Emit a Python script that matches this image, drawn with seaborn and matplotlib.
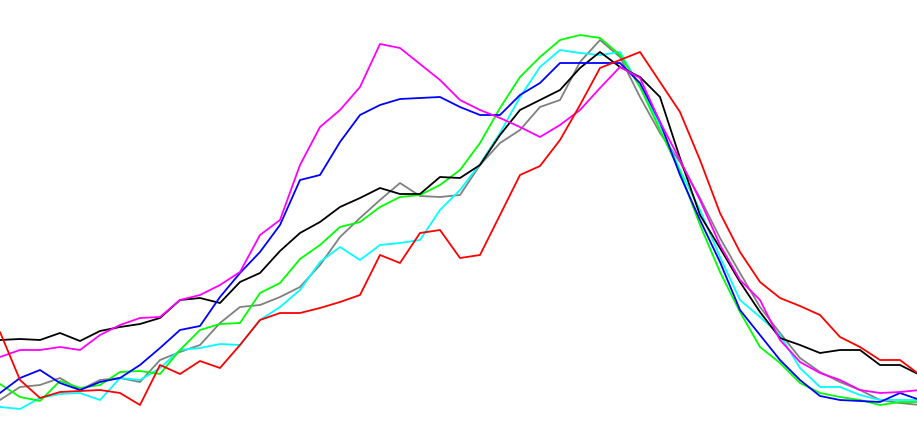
import numpy as np
import pandas as pd
import seaborn as sns
import matplotlib
matplotlib.use("Agg")
import matplotlib.pyplot as plt

# sample positions (shared by all series)
x = list(range(0, 921, 20))

# values (axis runs top-down, no labels shown)
red = [332, 380, 398, 392, 391, 390, 393, 405, 365, 374, 361, 368, 345, 320, 313, 313,
       308, 302, 295, 255, 263, 233, 230, 258, 255, 215, 175, 166, 140, 105, 68, 60,
       52, 82, 112, 160, 213, 252, 282, 298, 306, 315, 337, 347, 360, 360, 375]
magenta = [357, 350, 350, 347, 350, 335, 325, 318, 317, 300, 295, 285, 272, 235, 220, 165,
           127, 110, 87, 44, 48, 64, 80, 100, 110, 118, 127, 137, 125, 110, 88, 67,
           78, 122, 160, 200, 245, 280, 300, 340, 362, 373, 380, 390, 393, 392, 390]
blue = [393, 378, 370, 383, 390, 382, 378, 365, 348, 330, 326, 297, 273, 252, 225, 180,
        175, 142, 115, 105, 99, 98, 97, 107, 115, 115, 95, 83, 63, 63, 63, 63,
        83, 122, 175, 220, 262, 310, 335, 360, 380, 396, 400, 401, 402, 393, 400]
black = [340, 339, 340, 333, 341, 331, 327, 324, 318, 300, 298, 303, 282, 273, 251, 233,
         222, 207, 198, 188, 194, 194, 177, 178, 165, 135, 110, 100, 90, 68, 52, 67,
         77, 97, 158, 215, 248, 282, 312, 338, 345, 353, 350, 350, 365, 365, 375]
gray = [400, 387, 385, 378, 390, 380, 378, 382, 360, 352, 345, 323, 307, 305, 297, 287,
        265, 237, 218, 200, 183, 196, 197, 195, 165, 143, 130, 107, 100, 62, 40, 57,
        97, 133, 162, 198, 238, 273, 307, 333, 358, 372, 382, 390, 400, 403, 405]
green = [384, 397, 401, 381, 388, 385, 372, 371, 374, 350, 330, 324, 323, 293, 283, 259,
         245, 227, 222, 207, 197, 195, 185, 170, 143, 108, 77, 57, 40, 35, 38, 55,
         87, 130, 172, 225, 272, 312, 347, 363, 383, 393, 397, 400, 405, 402, 402]
cyan = [407, 409, 398, 394, 393, 400, 378, 380, 368, 350, 348, 344, 345, 320, 307, 290,
        262, 247, 260, 245, 243, 240, 210, 190, 164, 133, 97, 67, 50, 53, 55, 52,
        87, 125, 170, 210, 257, 300, 317, 335, 368, 387, 387, 395, 400, 400, 400]

series = {"gray": gray, "cyan": cyan, "green": green, "black": black,
          "blue": blue, "magenta": magenta, "red": red}
colors = {"gray": "#808080", "cyan": "#00ffff", "green": "#00ff00", "black": "#000000",
          "blue": "#0000ff", "magenta": "#ff00ff", "red": "#ff0000"}

df = pd.concat([pd.DataFrame({"x": x, "y": v, "s": k}) for k, v in series.items()])

sns.set_style("white")
fig = plt.figure(figsize=(9.17, 4.37), dpi=100)
ax = fig.add_axes([0, 0, 1, 1])
sns.lineplot(data=df, x="x", y="y", hue="s", palette=colors, linewidth=1.3,
             legend=False, ax=ax, sort=False)
ax.set_xlim(0, 917)
ax.set_ylim(437, 0)
ax.axis("off")

fig.savefig("out.png", dpi=100)
